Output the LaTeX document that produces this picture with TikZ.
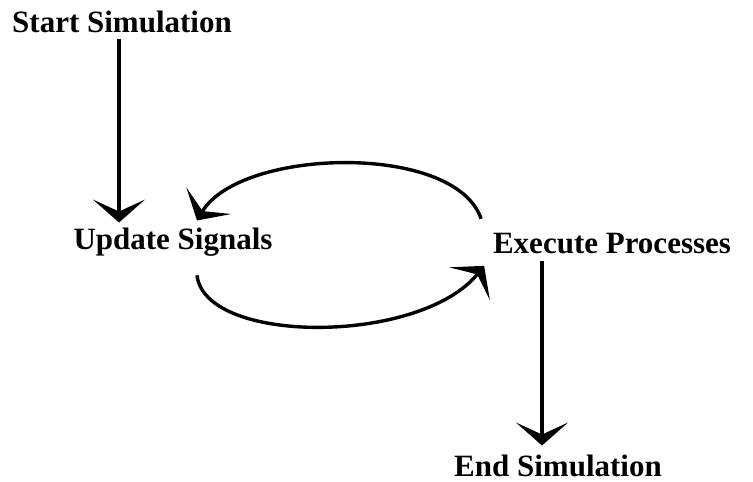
\documentclass[tikz,border=0pt]{standalone}
\usepackage{fontspec}
\setmainfont{Liberation Serif}
\usepackage{tikz}
\usetikzlibrary{arrows.meta,calc}

\tikzset{
  stage/.style={anchor=base,inner sep=0.75pt,font=\bfseries\fontsize{31}{36}\selectfont},
  flow/.style={line width=3.4pt,-{Stealth[length=23pt,width=52pt,inset=12pt]}}
}

\begin{document}
\begin{tikzpicture}[x=1pt,y=1pt,yscale=-1,xscale=1]
        \useasboundingbox (0,0) rectangle (753,482);

        \node[stage] (start) at (122,32) {Start Simulation};
        \node[stage] (update) at (173,249) {Update Signals};
        \node[stage] (execute) at (612,253) {Execute Processes};
        \node[stage] (endsim) at (558,476) {End Simulation};

        \draw[flow] ($(start.south)+(-3,6)$) -- ($(start.south |- update.north)+(-3,-4)$);
        \draw[flow] ($(execute.north west)+(-11,-13)$) .. controls (455,142) and (240,148) .. ($(update.north)+(24,-6)$);
        \draw[flow] ($(update.south)+(24,18.5)$) .. controls (205,345) and (420,345) .. ($(execute.south west)+(-8,11.5)$);
        \draw[flow] ($(execute.south)+(-70,6.5)$) -- ($(execute.south |- endsim.north)+(-70,-8)$);
\end{tikzpicture}
\end{document}
